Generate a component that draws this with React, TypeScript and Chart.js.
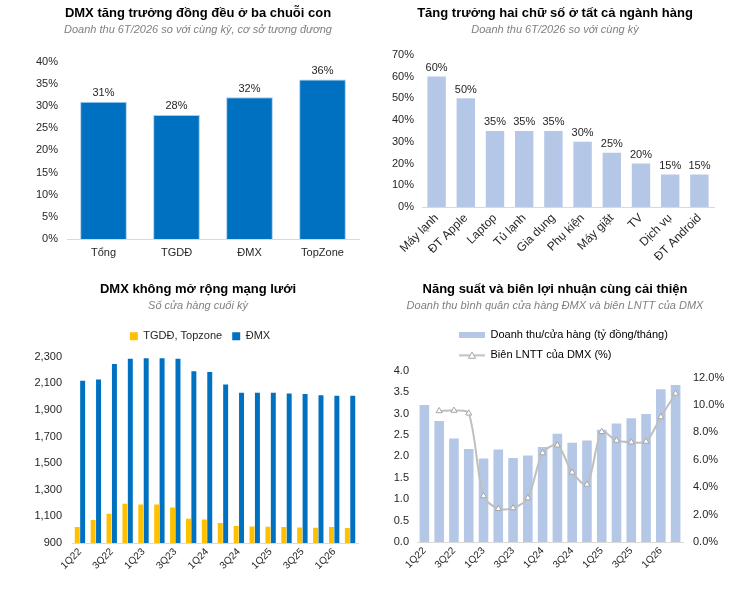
import React, { useEffect, useRef } from 'react';
import { Chart, registerables, ChartConfiguration } from 'chart.js';

Chart.register(...registerables);

const FONT = '"Liberation Sans", Arial, sans-serif';
Chart.defaults.font.family = FONT;
Chart.defaults.font.size = 11;
Chart.defaults.color = '#262626';

// --- chart 1: growth by chain
const chainLabels = ['Tổng', 'TGDĐ', 'ĐMX', 'TopZone'];
const chainGrowth = [31, 28, 32, 36];

// --- chart 2: growth by category
const categoryLabels = ['Máy lạnh', 'ĐT Apple', 'Laptop', 'Tủ lạnh', 'Gia dụng', 'Phụ kiện', 'Máy giặt', 'TV', 'Dịch vụ', 'ĐT Android'];
const categoryGrowth = [60, 50, 35, 35, 35, 30, 25, 20, 15, 15];

// --- charts 3 and 4: quarterly
const quarters = ['1Q22', '2Q22', '3Q22', '4Q22', '1Q23', '2Q23', '3Q23', '4Q23', '1Q24', '2Q24', '3Q24', '4Q24', '1Q25', '2Q25', '3Q25', '4Q25', '1Q26', '2Q26'];
const tgddStores = [1020, 1072, 1120, 1195, 1190, 1190, 1167, 1082, 1077, 1050, 1027, 1025, 1022, 1020, 1017, 1015, 1020, 1012];
const dmxStores = [2120, 2130, 2245, 2285, 2290, 2290, 2285, 2192, 2185, 2092, 2030, 2030, 2030, 2025, 2020, 2010, 2007, 2007];
const revenuePerStore = [3.2, 2.83, 2.42, 2.17, 1.95, 2.16, 1.96, 2.02, 2.22, 2.53, 2.32, 2.37, 2.62, 2.77, 2.89, 2.99, 3.57, 3.67];
const pbtMargin = [null, 9.57, 9.6, 9.4, 3.36, 2.43, 2.48, 3.21, 6.5, 7.07, 5.08, 4.2, 8.05, 7.41, 7.29, 7.34, 9.13, 10.85];

const BLUE = '#0070C0';
const LIGHT_BLUE = '#B4C7E7';
const YELLOW = '#FFC000';
const AXIS = '#D9D9D9';

// draws "xx%" above each bar of the first dataset
const barLabels = {
  id: 'barLabels',
  afterDatasetsDraw(chart: any) {
    const ctx = chart.ctx;
    ctx.save();
    ctx.font = `11px ${FONT}`;
    ctx.fillStyle = '#262626';
    ctx.textAlign = 'center';
    ctx.textBaseline = 'bottom';
    chart.getDatasetMeta(0).data.forEach((bar: any, i: number) => {
      ctx.fillText(chart.data.datasets[0].data[i] + '%', bar.x, bar.y - 3);
    });
    ctx.restore();
  },
};

// moves title/subtitle (and optionally legend) sideways, and can add room under the legend
function shiftBoxes(titleDx: number, legendDx = 0, legendLeft: number | null = null, legendExtra = 0) {
  return {
    id: 'shiftBoxes',
    beforeLayout(chart: any) {
      const lg = chart.legend;
      if (lg && legendExtra && !lg._patched) {
        const fit = lg.fit.bind(lg);
        lg.fit = () => {
          fit();
          lg.height += legendExtra;
        };
        lg._patched = true;
      }
    },
    afterLayout(chart: any) {
      chart.boxes.forEach((b: any) => {
        if (b !== chart.legend && b.position === 'top' && b.options && typeof b.options.text === 'string') {
          b.left += titleDx;
          b.right += titleDx;
        }
      });
      const lg = chart.legend;
      if (lg) {
        if (legendLeft !== null) {
          const w = lg.right - lg.left;
          lg.left = legendLeft;
          lg.right = legendLeft + w;
        } else {
          lg.left += legendDx;
          lg.right += legendDx;
        }
      }
    },
  };
}

const titles = (title: string, subtitle: string, gap: number) => ({
  title: {
    display: true,
    text: title,
    color: '#000000',
    font: { size: 13, weight: 'bold' as const },
    padding: { top: 6, bottom: 2 },
  },
  subtitle: {
    display: true,
    text: subtitle,
    color: '#808080',
    font: { size: 11, style: 'italic' as const },
    padding: { bottom: gap },
  },
});

const fixWidth = (w: number) => (scale: any) => {
  scale.width = w;
};
const fixHeight = (h: number) => (scale: any) => {
  scale.height = h;
};

const everyOther = (_v: any, i: number) => (i % 2 === 0 ? quarters[i] : '');
const noGrid = { display: false, drawTicks: false };

function chainConfig(): ChartConfiguration {
  return {
    type: 'bar',
    data: {
      labels: chainLabels,
      datasets: [
        {
          data: chainGrowth,
          backgroundColor: BLUE,
          borderColor: '#A9CBEA',
          borderWidth: 1,
          categoryPercentage: 1,
          barPercentage: 0.64,
        },
      ],
    },
    options: {
      animation: false,
      responsive: true,
      maintainAspectRatio: false,
      layout: { padding: { left: 0, right: 10 } },
      plugins: {
        legend: { display: false },
        tooltip: { enabled: false },
        ...titles('DMX tăng trưởng đồng đều ở ba chuỗi con', 'Doanh thu 6T/2026 so với cùng kỳ, cơ sở tương đương', 25),
      },
      scales: {
        x: {
          grid: noGrid,
          border: { color: AXIS },
          ticks: { padding: 7 },
          afterFit: fixHeight(31),
        },
        y: {
          min: 0,
          max: 40,
          grid: noGrid,
          border: { display: false },
          ticks: { stepSize: 5, padding: 9, callback: (v: any) => v + '%' },
          afterFit: fixWidth(67),
        },
      },
    },
    plugins: [barLabels, shiftBoxes(18.5)],
  } as any;
}

function categoryConfig(): ChartConfiguration {
  return {
    type: 'bar',
    data: {
      labels: categoryLabels,
      datasets: [{ data: categoryGrowth, backgroundColor: LIGHT_BLUE, categoryPercentage: 1, barPercentage: 0.63 }],
    },
    options: {
      animation: false,
      responsive: true,
      maintainAspectRatio: false,
      layout: { padding: { left: 0, right: 24 } },
      plugins: {
        legend: { display: false },
        tooltip: { enabled: false },
        ...titles('Tăng trưởng hai chữ số ở tất cả ngành hàng', 'Doanh thu 6T/2026 so với cùng kỳ', 18),
      },
      scales: {
        x: {
          grid: noGrid,
          border: { color: AXIS },
          ticks: { padding: 4, minRotation: 45, maxRotation: 45, autoSkip: false, font: { size: 12 } },
          afterFit: fixHeight(63),
        },
        y: {
          min: 0,
          max: 70,
          grid: noGrid,
          border: { display: false },
          ticks: { stepSize: 10, padding: 8, callback: (v: any) => v + '%' },
          afterFit: fixWidth(53),
        },
      },
    },
    plugins: [barLabels, shiftBoxes(13.5)],
  } as any;
}

function storesConfig(): ChartConfiguration {
  return {
    type: 'bar',
    data: {
      labels: quarters,
      datasets: [
        { label: 'TGDĐ, Topzone', data: tgddStores, backgroundColor: YELLOW, categoryPercentage: 0.68, barPercentage: 0.92 },
        { label: 'ĐMX', data: dmxStores, backgroundColor: BLUE, categoryPercentage: 0.68, barPercentage: 0.92 },
      ],
    },
    options: {
      animation: false,
      responsive: true,
      maintainAspectRatio: false,
      layout: { padding: { left: 0, right: 11 } },
      plugins: {
        tooltip: { enabled: false },
        ...titles('DMX không mở rộng mạng lưới', 'Số cửa hàng cuối kỳ', 8),
        legend: {
          position: 'top',
          labels: { boxWidth: 8, boxHeight: 8, padding: 10 },
        },
      },
      scales: {
        x: {
          grid: noGrid,
          border: { color: AXIS },
          ticks: { padding: 3, minRotation: 45, maxRotation: 45, autoSkip: false, font: { size: 10 }, callback: everyOther },
          afterFit: fixHeight(46),
        },
        y: {
          min: 900,
          max: 2300,
          grid: noGrid,
          border: { display: false },
          ticks: { stepSize: 200, padding: 10, callback: (v: any) => Number(v).toLocaleString('en-US') },
          afterFit: fixWidth(72),
        },
      },
    },
    plugins: [shiftBoxes(19, 21, null, 5)],
  } as any;
}

function makeRectIcon() {
  const c = document.createElement('canvas');
  c.width = 26;
  c.height = 6;
  const ctx = c.getContext('2d')!;
  ctx.fillStyle = LIGHT_BLUE;
  ctx.fillRect(0, 0, 26, 6);
  return c;
}

function makeLineIcon() {
  const c = document.createElement('canvas');
  c.width = 26;
  c.height = 9;
  const ctx = c.getContext('2d')!;
  ctx.strokeStyle = '#BFBFBF';
  ctx.lineWidth = 2;
  ctx.beginPath();
  ctx.moveTo(0, 4.5);
  ctx.lineTo(26, 4.5);
  ctx.stroke();
  ctx.fillStyle = '#FFFFFF';
  ctx.strokeStyle = '#A6A6A6';
  ctx.lineWidth = 1;
  ctx.beginPath();
  ctx.moveTo(13, 1);
  ctx.lineTo(16.5, 7.5);
  ctx.lineTo(9.5, 7.5);
  ctx.closePath();
  ctx.fill();
  ctx.stroke();
  return c;
}

function productivityConfig(): ChartConfiguration {
  const rectIcon = makeRectIcon();
  const lineIcon = makeLineIcon();
  return {
    type: 'bar',
    data: {
      labels: quarters,
      datasets: [
        {
          type: 'bar',
          label: 'Doanh thu/cửa hàng (tỷ đồng/tháng)',
          data: revenuePerStore,
          backgroundColor: LIGHT_BLUE,
          categoryPercentage: 1,
          barPercentage: 0.65,
          yAxisID: 'y',
          order: 1,
        },
        {
          type: 'line',
          label: 'Biên LNTT của DMX (%)',
          data: pbtMargin,
          borderColor: '#BFBFBF',
          borderWidth: 2,
          tension: 0.3,
          pointStyle: 'triangle',
          pointRadius: 3.5,
          pointBackgroundColor: '#FFFFFF',
          pointBorderColor: '#A6A6A6',
          pointBorderWidth: 1,
          yAxisID: 'y1',
          order: 0,
        },
      ],
    },
    options: {
      animation: false,
      responsive: true,
      maintainAspectRatio: false,
      layout: { padding: { left: 0, right: 4 } },
      plugins: {
        tooltip: { enabled: false },
        ...titles('Năng suất và biên lợi nhuận cùng cải thiện', 'Doanh thu bình quân cửa hàng ĐMX và biên LNTT của DMX', 8),
        legend: {
          position: 'top',
          align: 'start',
          maxWidth: 250,
          labels: {
            usePointStyle: true,
            pointStyleWidth: 26,
            boxHeight: 9,
            padding: 9,
            generateLabels: () => [
              { text: 'Doanh thu/cửa hàng (tỷ đồng/tháng)', pointStyle: rectIcon, datasetIndex: 0, hidden: false, lineWidth: 0 },
              { text: 'Biên LNTT của DMX (%)', pointStyle: lineIcon, datasetIndex: 1, hidden: false, lineWidth: 0 },
            ],
          },
        },
      },
      scales: {
        x: {
          grid: noGrid,
          border: { color: AXIS },
          ticks: { padding: 3, minRotation: 45, maxRotation: 45, autoSkip: false, font: { size: 10 }, callback: everyOther },
          afterFit: fixHeight(47),
        },
        y: {
          position: 'left',
          min: 0,
          max: 4,
          grid: noGrid,
          border: { display: false },
          ticks: { stepSize: 0.5, padding: 8, callback: (v: any) => Number(v).toFixed(1) },
          afterFit: fixWidth(48),
        },
        y1: {
          position: 'right',
          min: 0,
          max: 12.5,
          grid: noGrid,
          border: { display: false },
          ticks: { stepSize: 2, includeBounds: false, padding: 10, callback: (v: any) => Number(v).toFixed(1) + '%' },
          afterFit: fixWidth(51),
        },
      },
    },
    plugins: [shiftBoxes(3.5, 0, 81)],
  } as any;
}

function ChartPanel({ build, left, top, width, height }: { build: () => ChartConfiguration; left: number; top: number; width: number; height: number }) {
  const canvasRef = useRef<HTMLCanvasElement>(null);

  useEffect(() => {
    if (!canvasRef.current) return;
    const chart = new Chart(canvasRef.current, build());
    return () => chart.destroy();
  }, [build]);

  return (
    <div style={{ position: 'absolute', left, top, width, height }}>
      <canvas ref={canvasRef} />
    </div>
  );
}

export default function App() {
  return (
    <div style={{ position: 'absolute', left: 0, top: 0, width: 738, height: 589, background: '#ffffff' }}>
      <ChartPanel build={chainConfig} left={0} top={0} width={369} height={270} />
      <ChartPanel build={categoryConfig} left={369} top={0} width={369} height={270} />
      <ChartPanel build={storesConfig} left={0} top={276} width={369} height={313} />
      <ChartPanel build={productivityConfig} left={369} top={276} width={369} height={313} />
    </div>
  );
}
